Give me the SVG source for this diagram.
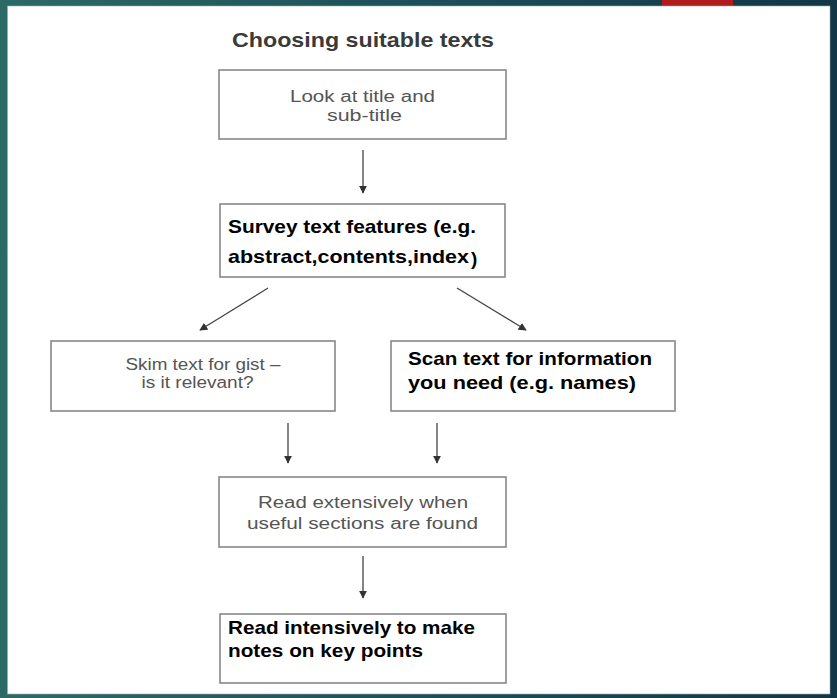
<svg xmlns="http://www.w3.org/2000/svg" width="837" height="698" viewBox="0 0 837 698">
<defs>
<linearGradient id="bg" x1="0" y1="0" x2="1" y2="0">
<stop offset="0" stop-color="#2c6a66"/>
<stop offset="0.5" stop-color="#1d4f5a"/>
<stop offset="1" stop-color="#123646"/>
</linearGradient>
<marker id="ah" viewBox="0 0 10 10" refX="9" refY="5" markerWidth="8" markerHeight="8" orient="auto" markerUnits="userSpaceOnUse">
<path d="M0,0 L10,5 L0,10 z" fill="#333"/>
</marker>
<style>
.box{fill:#fff;stroke:#888;stroke-width:1.6}
.lt{font-family:"Liberation Sans",Arial,sans-serif;fill:#555;font-size:16px}
.bd{font-family:"Liberation Sans",Arial,sans-serif;fill:#000;font-weight:bold;font-size:19px}
.conn{stroke:#444;stroke-width:1.3;fill:none;marker-end:url(#ah)}
</style>
</defs>
<rect x="0" y="0" width="837" height="698" fill="url(#bg)"/>
<rect x="662" y="0" width="71" height="6" fill="#b01c1c"/>
<rect x="7.5" y="6" width="822.5" height="688" fill="#fff" stroke="#9aa" stroke-width="0.6"/>
<text x="363" y="47" text-anchor="middle" font-family="'Liberation Sans',Arial,sans-serif" font-weight="bold" font-size="21" fill="#3a3a3a" textLength="262" lengthAdjust="spacingAndGlyphs">Choosing suitable texts</text>
<g id="connectors">
<line class="conn" x1="363" y1="150" x2="363" y2="193"/>
<line class="conn" x1="268" y1="288" x2="200" y2="330"/>
<line class="conn" x1="457" y1="288" x2="526" y2="330"/>
<line class="conn" x1="288" y1="423" x2="288" y2="463"/>
<line class="conn" x1="437" y1="423" x2="437" y2="463"/>
<line class="conn" x1="363" y1="556" x2="363" y2="598"/>
</g>
<g id="n1">
<rect class="box" x="219" y="70" width="287" height="69"/>
<text class="lt" x="362.5" y="102" text-anchor="middle" font-size="17" textLength="145" lengthAdjust="spacingAndGlyphs">Look at title and</text>
<text class="lt" x="364.5" y="121" text-anchor="middle" font-size="17" textLength="75" lengthAdjust="spacingAndGlyphs">sub-title</text>
</g>
<g id="n2">
<rect class="box" x="220" y="204" width="285" height="73"/>
<text class="bd" x="228" y="233" font-size="20" textLength="248" lengthAdjust="spacingAndGlyphs">Survey text features (e.g.</text>
<text class="bd" x="228" y="263" font-size="20" textLength="241" lengthAdjust="spacingAndGlyphs">abstract,contents,index</text>
<text class="bd" x="471" y="265" font-size="28">)</text>
</g>
<g id="n3">
<rect class="box" x="51" y="341" width="284" height="70"/>
<text class="lt" x="203" y="370" text-anchor="middle" font-size="15" textLength="155" lengthAdjust="spacingAndGlyphs">Skim text for gist –</text>
<text class="lt" x="197.5" y="388" text-anchor="middle" font-size="15" textLength="112" lengthAdjust="spacingAndGlyphs">is it relevant?</text>
</g>
<g id="n4">
<rect class="box" x="391" y="341" width="284" height="70"/>
<text class="bd" x="408" y="365" textLength="244" lengthAdjust="spacingAndGlyphs">Scan text for information</text>
<text class="bd" x="408" y="389" textLength="228" lengthAdjust="spacingAndGlyphs">you need (e.g. names)</text>
</g>
<g id="n5">
<rect class="box" x="219" y="477" width="287" height="70"/>
<text class="lt" x="363" y="508" text-anchor="middle" textLength="210" lengthAdjust="spacingAndGlyphs">Read extensively when</text>
<text class="lt" x="362.5" y="529" text-anchor="middle" textLength="231" lengthAdjust="spacingAndGlyphs">useful sections are found</text>
</g>
<g id="n6">
<rect class="box" x="220" y="614" width="286" height="69"/>
<text class="bd" x="228" y="634" textLength="247" lengthAdjust="spacingAndGlyphs">Read intensively to make</text>
<text class="bd" x="228" y="657" textLength="195" lengthAdjust="spacingAndGlyphs">notes on key points</text>
</g>
</svg>
